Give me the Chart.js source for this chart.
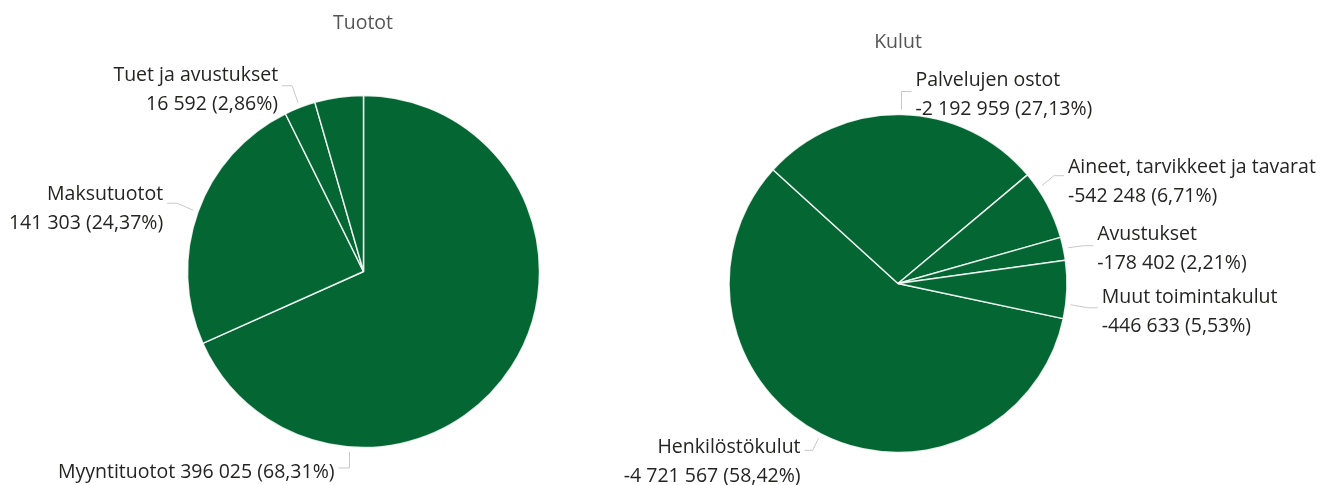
<!DOCTYPE html>
<html>
<head>
<meta charset="utf-8">
<script src="https://cdn.jsdelivr.net/npm/chart.js@4.4.0/dist/chart.umd.min.js"></script>
<style>
  html, body { margin: 0; padding: 0; background: #fff; }
  #wrap { position: relative; width: 1327px; height: 485px; }
  canvas { position: absolute; top: 0; }
</style>
</head>
<body>
<div id="wrap">
  <canvas id="tuotot" width="663" height="485" style="left:0"></canvas>
  <canvas id="kulut" width="767" height="485" style="left:560px"></canvas>
</div>
<script>
// Tuotot (income)
const tuototLabels = ['Myyntituotot', 'Maksutuotot', 'Tuet ja avustukset', 'Muut tuotot'];
const tuototValues = [396025, 141303, 16592, 25828];

// Kulut (expenses)
const kulutLabels = ['Henkilöstökulut', 'Palvelujen ostot', 'Aineet, tarvikkeet ja tavarat', 'Avustukset', 'Muut toimintakulut'];
const kulutValues = [-4721567, -2192959, -542248, -178402, -446633];

const GREEN = '#036633';
const FONT = '"Open Sans", "Noto Sans", sans-serif';

function fmt(v) {
  return (v < 0 ? '-' : '') + Math.abs(v).toString().replace(/\B(?=(\d{3})+(?!\d))/g, ' ');
}
function pct(v, arr) {
  const tot = arr.reduce((s, x) => s + Math.abs(x), 0);
  return (Math.abs(v) / tot * 100).toFixed(2).replace('.', ',') + '%';
}

// leader line labels, one entry per slice (null = no label)
function labelPlugin(title, titleX, titleY, names, values, layout) {
  return {
    id: 'leaderLabels',
    afterDraw(chart) {
      const ctx = chart.ctx;
      const meta = chart.getDatasetMeta(0);
      ctx.save();
      ctx.font = '19.5px ' + FONT;
      ctx.fillStyle = '#555555';
      ctx.textAlign = 'center';
      ctx.textBaseline = 'middle';
      ctx.fillText(title, titleX, titleY);
      ctx.textBaseline = 'alphabetic';
      layout.forEach((l, i) => {
        if (!l) return;
        const arc = meta.data[i];
        const a = arc.startAngle + (arc.endAngle - arc.startAngle) * l.at;
        const r = arc.outerRadius + 5;
        const sx = arc.x + Math.cos(a) * r;
        const sy = arc.y + Math.sin(a) * r;
        const ex = sx + l.elbow[0], ey = sy + l.elbow[1];
        const hx = ex + l.h;
        ctx.strokeStyle = '#c8c8c8';
        ctx.lineWidth = 1;
        ctx.beginPath();
        ctx.moveTo(sx, sy);
        ctx.lineTo(ex, ey);
        ctx.lineTo(hx, ey);
        ctx.stroke();
        const valText = fmt(values[i]) + ' (' + pct(values[i], values) + ')';
        const lines = l.oneLine ? [names[i] + ' ' + valText] : [names[i], valText];
        ctx.fillStyle = '#252423';
        ctx.textAlign = l.h < 0 ? 'right' : 'left';
        const tx = hx + (l.h < 0 ? -4 : 4);
        lines.forEach((t, k) => ctx.fillText(t, tx, ey + l.ty + k * 29 + 7));
      });
      ctx.restore();
    }
  };
}

function pieConfig(names, values, rotation, radius, padding, plugin) {
  return {
    type: 'pie',
    data: {
      labels: names,
      datasets: [{
        data: values.map(v => Math.abs(v)),
        backgroundColor: GREEN,
        borderColor: 'rgba(255,255,255,0.85)',
        borderWidth: 1.5
      }]
    },
    options: {
      responsive: false,
      animation: false,
      rotation: rotation,
      radius: radius,
      layout: { padding: padding },
      plugins: {
        legend: { display: false },
        tooltip: { enabled: false },
        title: { display: false }
      }
    },
    plugins: [plugin]
  };
}

new Chart(document.getElementById('tuotot'), pieConfig(
  tuototLabels, tuototValues, 0, 176,
  { left: 187, right: 123, top: 95, bottom: 37 },
  labelPlugin('Tuotot', 363, 23, tuototLabels, tuototValues, [
    { at: 0.75, elbow: [0, 16], h: -11, ty: 3, oneLine: true },
    { at: 0.5, elbow: [-16, -7], h: -10, ty: -10 },
    { at: 0.5, elbow: [-6, -17], h: -10, ty: -12 },
    null
  ])
));

new Chart(document.getElementById('kulut'), pieConfig(
  kulutLabels, kulutValues, 102, 169,
  { left: 169, right: 260, top: 114, bottom: 32 },
  labelPlugin('Kulut', 338, 42, kulutLabels, kulutValues, [
    { at: 0.5, elbow: [-6, 12], h: -8, ty: -4.5 },
    { at: 0.5, elbow: [0, -18], h: 10, ty: -13 },
    { at: 0.24, elbow: [12, -10], h: 10, ty: -10 },
    { at: 0.5, elbow: [15, -2], h: 10, ty: -13 },
    { at: 0.75, elbow: [17, 3], h: 10, ty: -11.5 }
  ])
));
</script>
</body>
</html>
